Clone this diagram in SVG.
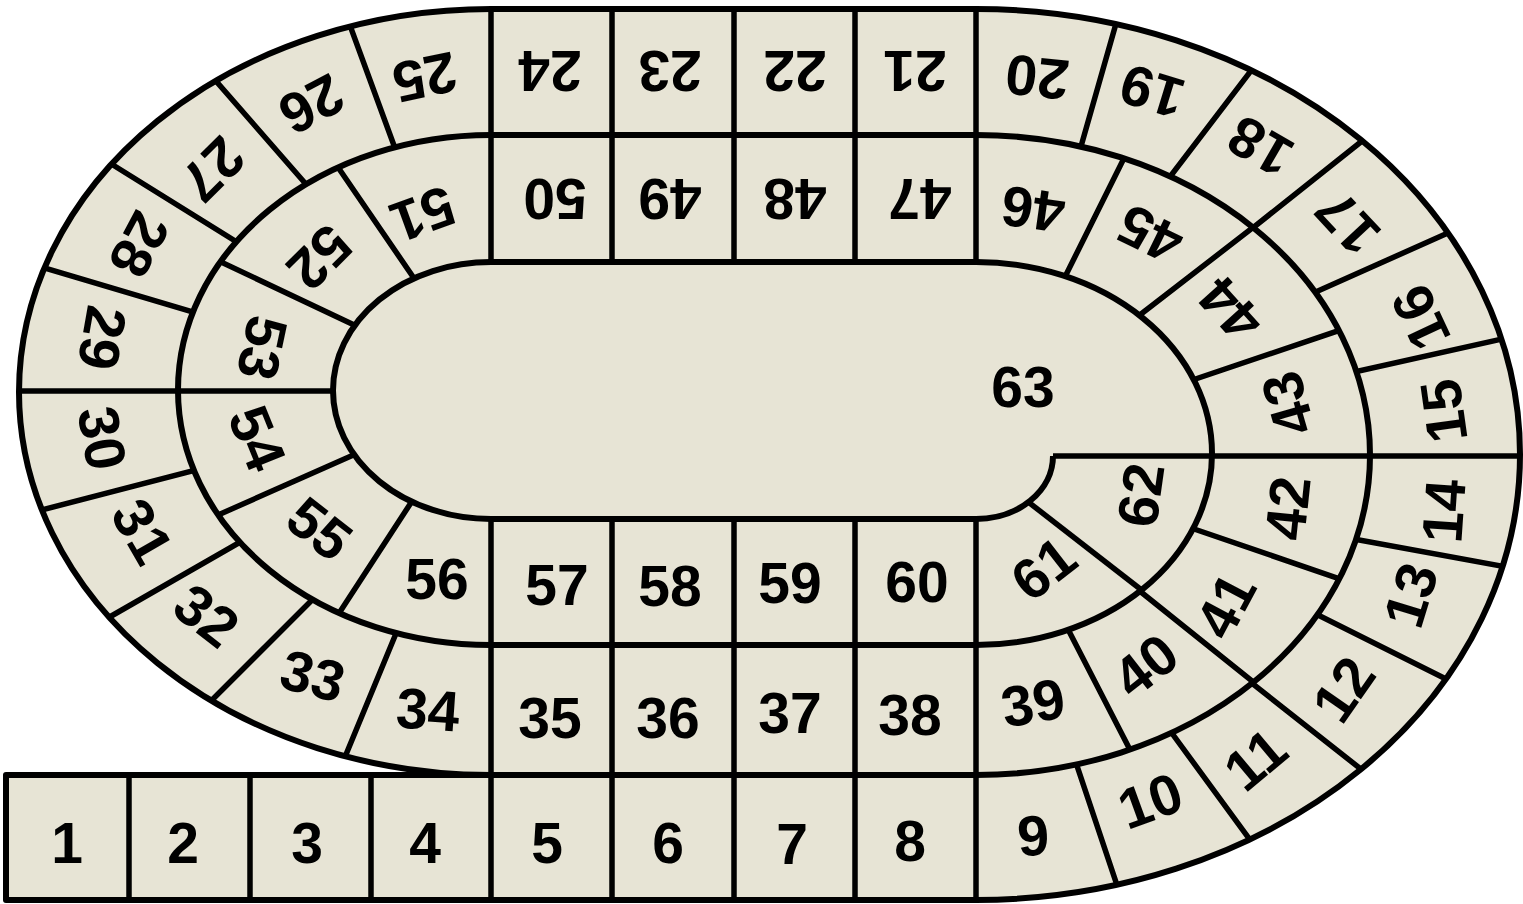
<svg xmlns="http://www.w3.org/2000/svg" width="1523" height="904" viewBox="0 0 1523 904">
<style>
.ln{fill:none;stroke:#000;stroke-width:6;stroke-linejoin:round}
.dv{fill:none;stroke:#000;stroke-width:5.5}
.t{font-family:"Liberation Sans",Arial,sans-serif;font-weight:bold;font-size:57px;fill:#000;text-anchor:middle}
</style>
<defs>
<clipPath id="cLO"><path clip-rule="evenodd" d="M491,9 A472,383 0 0 0 491,775 Z M491,135 A313,255 0 0 0 491,645 Z"/></clipPath>
<clipPath id="cLM"><path clip-rule="evenodd" d="M491,135 A313,255 0 0 0 491,645 Z M491,262 A158,128.5 0 0 0 491,519 Z"/></clipPath>
<clipPath id="cRO"><path clip-rule="evenodd" d="M976,900 A544,445.5 0 0 0 976,9 Z M976,775 A394,320 0 0 0 976,135 Z"/></clipPath>
<clipPath id="cRM"><path clip-rule="evenodd" d="M976,775 A394,320 0 0 0 976,135 Z M976,645 A236,191.5 0 0 0 976,262 Z"/></clipPath>
<clipPath id="cRI"><path clip-rule="evenodd" d="M976,645 A236,191.5 0 0 0 976,262 Z M976,519 A77,63 0 0 0 976,393 Z"/></clipPath>
</defs>
<rect width="1523" height="904" fill="#fff"/>
<g id="board">
<path d="M6,775 L6,900 L976,900 A544,445.5 0 0 0 976,9 L491,9 A472,383 0 0 0 491,775 Z" fill="#E7E4D5" stroke="none"/>
</g>
<g id="connectors">
<g clip-path="url(#cLO)">
<path class="dv" d="M337,-10 L407,181 M188,49 L332,214 M76,142 L269,262 M1,255 L237,325 M3,520 L227,462 M73,638 L270,525 M185,727 L335,577 M333,786 L409,602"/>
</g>
<g clip-path="url(#cLM)">
<path class="dv" d="M318,138 L435,309 M185,245 L388,341 M182,531 L385,441 M431,472 L319,644"/>
</g>
<g clip-path="url(#cRO)">
<path class="dv" d="M1065,730 L1129,921 M1152,706 L1272,870 M1220,658 L1395,796 M1284,598 L1484,698 M1321,533 L1545,574 M1314,381 L1547,329 M1282,307 L1486,216 M1220,254 L1396,114 M1150,203 L1273,42 M1072,178 L1125,-8"/>
</g>
<g clip-path="url(#cRM)">
<path class="dv" d="M1055,604 L1144,777 M1106,564 L1287,709 M1159,517 L1378,592 M1160,391 L1373,319 M1110,338 L1286,202 M1050,307 L1140,126"/>
</g>
<g clip-path="url(#cRI)">
<path class="dv" d="M1000,480 L1175,616"/>
</g>
<path class="dv" d="M129,775 V900 M250,775 V900 M371,775 V900 M491,9 V262 M491,519 V900 M612,9 V262 M612,519 V900 M734,9 V262 M734,519 V900 M855,9 V262 M855,519 V900 M976,9 V262 M976,519 V900 M19,391 H333 M1053,456 H1520"/>
<path class="ln" d="M491,775 L976,775 A394,320 0 0 0 976,135 L491,135 A313,255 0 0 0 491,645 L976,645 A236,191.5 0 0 0 976,262 L491,262 A158,128.5 0 0 0 491,519 L976,519 A77,63 0 0 0 1053,456"/>
<path class="ln" d="M6,775 L6,900 L976,900 A544,445.5 0 0 0 976,9 L491,9 A472,383 0 0 0 491,775 Z"/>
</g>
<g id="labels">
<text class="t" transform="translate(67,842)" dy="0.36em">1</text>
<text class="t" transform="translate(183,842)" dy="0.36em">2</text>
<text class="t" transform="translate(307,842)" dy="0.36em">3</text>
<text class="t" transform="translate(425,842)" dy="0.36em">4</text>
<text class="t" transform="translate(547,842)" dy="0.36em">5</text>
<text class="t" transform="translate(668,842)" dy="0.36em">6</text>
<text class="t" transform="translate(792,843)" dy="0.36em">7</text>
<text class="t" transform="translate(910,840)" dy="0.36em">8</text>
<text class="t" transform="translate(1033,835) rotate(-4)" dy="0.36em">9</text>
<text class="t" transform="translate(1150,800) rotate(-20)" dy="0.36em">10</text>
<text class="t" transform="translate(1255,759) rotate(-40)" dy="0.36em">11</text>
<text class="t" transform="translate(1343,689) rotate(-55)" dy="0.36em">12</text>
<text class="t" transform="translate(1410,595) rotate(-73)" dy="0.36em">13</text>
<text class="t" transform="translate(1443,511) rotate(-86)" dy="0.36em">14</text>
<text class="t" transform="translate(1443,411) rotate(-98)" dy="0.36em">15</text>
<text class="t" transform="translate(1420,318) rotate(-115)" dy="0.36em">16</text>
<text class="t" transform="translate(1347,223) rotate(-133)" dy="0.36em">17</text>
<text class="t" transform="translate(1260,147) rotate(-150)" dy="0.36em">18</text>
<text class="t" transform="translate(1152,92) rotate(-163)" dy="0.36em">19</text>
<text class="t" transform="translate(1037,78) rotate(-174)" dy="0.36em">20</text>
<text class="t" transform="translate(915,72) rotate(180)" dy="0.36em">21</text>
<text class="t" transform="translate(795,72) rotate(180)" dy="0.36em">22</text>
<text class="t" transform="translate(670,72) rotate(180)" dy="0.36em">23</text>
<text class="t" transform="translate(550,72) rotate(180)" dy="0.36em">24</text>
<text class="t" transform="translate(425,78) rotate(168)" dy="0.36em">25</text>
<text class="t" transform="translate(312,105) rotate(152)" dy="0.36em">26</text>
<text class="t" transform="translate(213,170) rotate(135)" dy="0.36em">27</text>
<text class="t" transform="translate(140,245) rotate(118)" dy="0.36em">28</text>
<text class="t" transform="translate(103,338) rotate(100)" dy="0.36em">29</text>
<text class="t" transform="translate(103,438) rotate(80)" dy="0.36em">30</text>
<text class="t" transform="translate(143,531) rotate(60)" dy="0.36em">31</text>
<text class="t" transform="translate(207,615) rotate(38)" dy="0.36em">32</text>
<text class="t" transform="translate(313,675) rotate(15)" dy="0.36em">33</text>
<text class="t" transform="translate(428,709) rotate(4)" dy="0.36em">34</text>
<text class="t" transform="translate(550,717)" dy="0.36em">35</text>
<text class="t" transform="translate(668,717)" dy="0.36em">36</text>
<text class="t" transform="translate(790,712)" dy="0.36em">37</text>
<text class="t" transform="translate(910,714)" dy="0.36em">38</text>
<text class="t" transform="translate(1033,702) rotate(-10)" dy="0.36em">39</text>
<text class="t" transform="translate(1145,665) rotate(-38)" dy="0.36em">40</text>
<text class="t" transform="translate(1225,605) rotate(-62)" dy="0.36em">41</text>
<text class="t" transform="translate(1287,508) rotate(-84)" dy="0.36em">42</text>
<text class="t" transform="translate(1287,404) rotate(-106)" dy="0.36em">43</text>
<text class="t" transform="translate(1230,310) rotate(-132)" dy="0.36em">44</text>
<text class="t" transform="translate(1150,235) rotate(-154)" dy="0.36em">45</text>
<text class="t" transform="translate(1033,210) rotate(-172)" dy="0.36em">46</text>
<text class="t" transform="translate(920,200) rotate(180)" dy="0.36em">47</text>
<text class="t" transform="translate(795,200) rotate(180)" dy="0.36em">48</text>
<text class="t" transform="translate(670,200) rotate(180)" dy="0.36em">49</text>
<text class="t" transform="translate(555,200) rotate(180)" dy="0.36em">50</text>
<text class="t" transform="translate(423,215) rotate(160)" dy="0.36em">51</text>
<text class="t" transform="translate(320,258) rotate(135)" dy="0.36em">52</text>
<text class="t" transform="translate(263,348) rotate(102)" dy="0.36em">53</text>
<text class="t" transform="translate(258,438) rotate(68)" dy="0.36em">54</text>
<text class="t" transform="translate(320,528) rotate(38)" dy="0.36em">55</text>
<text class="t" transform="translate(437,578)" dy="0.36em">56</text>
<text class="t" transform="translate(557,584)" dy="0.36em">57</text>
<text class="t" transform="translate(670,585)" dy="0.36em">58</text>
<text class="t" transform="translate(790,582)" dy="0.36em">59</text>
<text class="t" transform="translate(917,581)" dy="0.36em">60</text>
<text class="t" transform="translate(1043,568) rotate(-38)" dy="0.36em">61</text>
<text class="t" transform="translate(1140,495) rotate(-82)" dy="0.36em">62</text>
<text class="t" transform="translate(1023,386)" dy="0.36em">63</text>
</g>
</svg>
